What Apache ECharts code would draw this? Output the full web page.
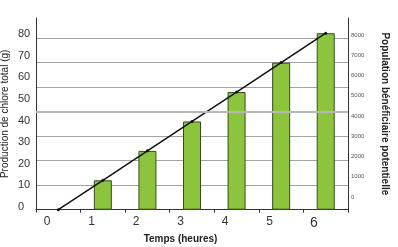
<!DOCTYPE html>
<html>
<head>
<meta charset="utf-8">
<script src="https://cdn.jsdelivr.net/npm/echarts@6/dist/echarts.min.js"></script>
<style>html,body{margin:0;padding:0;background:#fff;}#c{width:398px;height:247px;}</style>
</head>
<body>
<div id="c"></div>
<script>
// Categories (hours)
const categories = ['0', '1', '2', '3', '4', '5', '6'];
// Bar heights, in units of the plotted grid (gridline every 10)
const chloreBars = ['-', 12, 24, 36, 48, 60, 72];
// Population line, same plotted grid units
const populationLine = [0, 12, 24, 36, 48, 60, 72];
// Tick label ranges
const leftTicks = [0, 10, 20, 30, 40, 50, 60, 70, 80];
const rightTicks = [0, 1000, 2000, 3000, 4000, 5000, 6000, 7000, 8000];
const highlightedGrid = [40];

const FONT = "'Liberation Sans Narrow', 'Liberation Sans', sans-serif";
const chart = echarts.init(document.getElementById('c'), null, {renderer: 'canvas'});
const G = {containLabel: false, outerBoundsMode: 'none'};
const option = {
  animation: false,
  backgroundColor: '#fff',
  grid: [
    Object.assign({left: 36, right: 50, top: 18, bottom: 37.3}, G),         // plot
    Object.assign({left: 36, right: 50, top: 34, bottom: 40}, G),           // left tick labels
    Object.assign({left: 36, right: 50, top: 35, bottom: 50}, G),           // right tick labels
    Object.assign({left: 24.75, right: 61.75, top: 18, bottom: 37.3}, G)    // x labels
  ],
  xAxis: [
    {gridIndex: 0, type: 'category', data: categories, boundaryGap: true,
      axisLine: {lineStyle: {color: '#333', width: 1}},
      axisTick: {show: true, length: 3, inside: false, lineStyle: {color: '#333'}},
      axisLabel: {show: false}},
    {gridIndex: 1, type: 'category', data: categories, show: false},
    {gridIndex: 2, type: 'category', data: categories, show: false},
    {gridIndex: 3, type: 'category', data: categories, boundaryGap: true,
      axisLine: {show: false}, axisTick: {show: false},
      axisLabel: {show: true, margin: 6, fontSize: 12, color: '#333', fontFamily: FONT,
        formatter: v => v === '6' ? '{b|' + v + '}' : v,
        rich: {b: {fontSize: 14, color: '#333', fontFamily: FONT}}},
      name: 'Temps (heures)', nameLocation: 'middle', nameGap: 16,
      nameTextStyle: {fontSize: 10, fontWeight: 'bold', color: '#222', fontFamily: FONT}}
  ],
  yAxis: [
    {gridIndex: 0, type: 'value', min: 0, max: 78.2, interval: 10, position: 'left',
      axisLine: {show: true, lineStyle: {color: '#333'}},
      axisTick: {show: false}, axisLabel: {show: false},
      splitLine: {show: true, showMaxLine: false, showMinLine: false, lineStyle: {color: '#a3a3a3', width: 1}},
      name: 'Production de chlore total (g)', nameLocation: 'middle', nameGap: 26, nameRotate: 90,
      nameTextStyle: {fontSize: 10, color: '#222', fontFamily: FONT}},
    {gridIndex: 0, type: 'value', min: 0, max: 78.2, interval: 10, position: 'right',
      axisLine: {show: true, lineStyle: {color: '#333'}},
      axisTick: {show: false}, axisLabel: {show: false}, splitLine: {show: false},
      name: 'Population bénéficiaire potentielle', nameLocation: 'middle', nameGap: 32, nameRotate: -90,
      nameTextStyle: {fontSize: 10, fontWeight: 'bold', color: '#222', fontFamily: FONT}},
    {gridIndex: 1, type: 'value', min: leftTicks[0], max: leftTicks[leftTicks.length - 1], interval: 10,
      position: 'left', axisLine: {show: false}, axisTick: {show: false}, splitLine: {show: false},
      axisLabel: {show: true, align: 'left', margin: 18, fontSize: 11, color: '#333', fontFamily: FONT}},
    {gridIndex: 2, type: 'value', min: rightTicks[0], max: rightTicks[rightTicks.length - 1], interval: 1000,
      position: 'right', axisLine: {show: false}, axisTick: {show: false}, splitLine: {show: false},
      axisLabel: {show: true, align: 'left', margin: 3, fontSize: 6, color: '#555', fontFamily: FONT,
        formatter: v => String(v)}},
    {gridIndex: 3, type: 'value', min: 0, max: 1, show: false}
  ],
  series: [
    {type: 'bar', xAxisIndex: 0, yAxisIndex: 0, data: chloreBars, barWidth: 18,
      itemStyle: {color: '#8cc43e', borderColor: '#34501a', borderWidth: 1},
      markLine: {silent: true, symbol: 'none', label: {show: false},
        lineStyle: {color: '#b8b8b8', width: 2, type: 'solid'},
        data: highlightedGrid.map(v => ({yAxis: v}))},
      z: 2},
    {type: 'line', xAxisIndex: 0, yAxisIndex: 0, data: populationLine,
      symbol: 'circle', symbolSize: 3, showSymbol: true,
      itemStyle: {color: '#111'}, lineStyle: {color: '#111', width: 1.5}, z: 3}
  ]
};
chart.setOption(option);
</script>
</body>
</html>
